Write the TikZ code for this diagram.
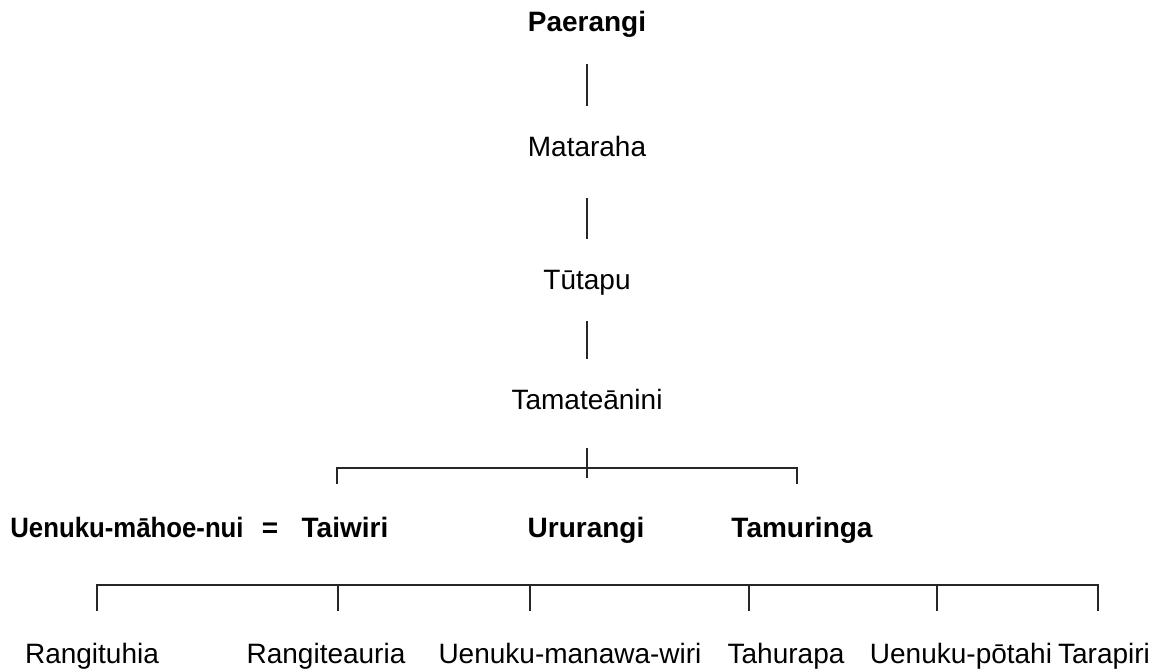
\documentclass[tikz,border=0pt]{standalone}
\usepackage{fontspec}
\setmainfont{Liberation Sans}
\definecolor{inkline}{HTML}{262626}
\tikzset{
  person/.style={inner sep=0pt,text height=10pt,text depth=3pt,
                 font=\fontsize{14}{17}\selectfont},
  elder/.style={person,font=\fontsize{14}{17}\selectfont\bfseries},
  kin/.style={draw=inkline,line width=1.1pt},
  descent/.style={kin,line width=1.4pt,shorten <=13pt,shorten >=15pt}
}
\begin{document}
\begin{tikzpicture}[x=0.5pt,y=-0.5pt]
  \useasboundingbox (0,0) rectangle (1168,669);
  % line of descent
  \node[elder] (paerangi) at (587,25) {Paerangi};
  \node[person] (mataraha) at (587,149) {Mataraha};
  \node[person] (tutapu) at (587,282) {Tūtapu};
  \node[person] (tamateanini) at (587,402) {Tamateānini};
  \draw[descent] (paerangi) -- (mataraha);
  \draw[descent,shorten <=18pt] (mataraha) -- (tutapu);
  \draw[descent,line width=1.1pt] (tutapu) -- (tamateanini);

  % children of Tamateanini
  \coordinate (sibs) at (587,468);
  \node[elder,transform shape,xscale=0.92] (uenuku) at (127,530) {Uenuku-māhoe-nui};
  \node[elder] (married) at (270,530) {=};
  \node[elder] (taiwiri) at (345,530) {Taiwiri};
  \node[elder] (ururangi) at (586,530) {Ururangi};
  \node[elder] (tamuringa) at (802,530) {Tamuringa};
  \draw[kin,shorten <=16.5pt] (tamateanini) -- ([yshift=-5pt]sibs);
  \draw[kin] (337,484) |- (sibs) -| (797,484);

  % children of Uenuku-mahoe-nui and Taiwiri
  \coordinate (issue) at (97,585);
  \node[person] (rangituhia) at (92,656) {Rangituhia};
  \node[person] (rangiteauria) at (326,656) {Rangiteauria};
  \node[person] (manawawiri) at (570,656) {Uenuku-manawa-wiri};
  \node[person] (tahurapa) at (786,656) {Tahurapa};
  \node[person] (potahi) at (961,656) {Uenuku-pōtahi};
  \node[person] (tarapiri) at (1104,656) {Tarapiri};
  \draw[kin] (97,611) |- (issue) -| (1098,611);
  \foreach \x in {338,530,749,937}
    \draw[kin] (\x,585) -- (\x,611);
\end{tikzpicture}
\end{document}
